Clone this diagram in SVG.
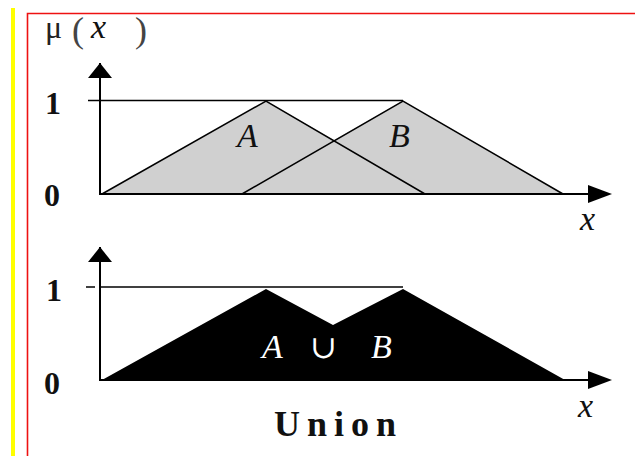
<svg xmlns="http://www.w3.org/2000/svg" width="635" height="456" viewBox="0 0 635 456">
<style>
.ax{stroke:#000;stroke-width:2;fill:none}
.ln{stroke:#000;stroke-width:1.5;fill:none}
.num{font-family:"Liberation Serif","DejaVu Serif",serif;font-weight:bold;font-size:32px;fill:#111}
.it{font-family:"Liberation Serif","DejaVu Serif",serif;font-style:italic;font-size:34px;fill:#111}
.wit{font-family:"Liberation Serif","DejaVu Serif",serif;font-style:italic;font-size:34px;fill:#fff}
.par{font-family:"Liberation Serif","DejaVu Serif",serif;font-size:36px;fill:#444}
</style>
<rect width="635" height="456" fill="#fff"/>
<line x1="13" y1="8" x2="13" y2="456" stroke="#ffff00" stroke-width="4"/>
<path d="M27.5,456 V13.5 H635" stroke="#ee1111" stroke-width="1.6" fill="none"/>

<g id="top-chart">
<text x="45" y="38" class="par" style="font-size:32px;fill:#222">μ</text>
<text x="72" y="42" class="par">(</text>
<text x="91" y="38" class="it">x</text>
<text x="135" y="42" class="par">)</text>
<polygon points="102,194 266,101 334,140 403,101 563,194" fill="#d0d0d0"/>
<line x1="88" y1="100.5" x2="403" y2="100.5" class="ln"/>
<polyline points="102,194 266,101 425,194" class="ln"/>
<polyline points="242,194 403,101 563,194" class="ln"/>
<line x1="100" y1="195" x2="100" y2="63" class="ax"/>
<polygon points="100,63 88,78 112,78" fill="#000"/>
<line x1="100" y1="194" x2="600" y2="194" class="ax"/>
<polygon points="612,194 588,185 588,203" fill="#000"/>
<text x="45" y="114" class="num">1</text>
<text x="44" y="206" class="num">0</text>
<text x="237" y="147" class="it">A</text>
<text x="389" y="147" class="it">B</text>
<text x="580" y="230" class="it">x</text>
</g>

<g id="bottom-chart">
<polygon points="102,380 266,289 333,325 403,289 565,380" fill="#000"/>
<line x1="100" y1="287" x2="403" y2="287" class="ln"/>
<line x1="86" y1="287" x2="95" y2="287" class="ln"/>
<line x1="100" y1="381" x2="100" y2="247" class="ax"/>
<polygon points="100,247 88,262 112,262" fill="#000"/>
<line x1="100" y1="380" x2="600" y2="380" class="ax"/>
<polygon points="612,380 588,371 588,389" fill="#000"/>
<text x="46" y="301" class="num">1</text>
<text x="44" y="394" class="num">0</text>
<text x="262" y="358" class="wit">A</text>
<text x="310" y="358" style="font-family:'DejaVu Serif',serif;font-size:32px;fill:#fff">∪</text>
<text x="371" y="358" class="wit">B</text>
<text x="578" y="417" class="it">x</text>
<text x="274" y="436" style="font-family:'Liberation Serif','DejaVu Serif',serif;font-weight:bold;font-size:36px;letter-spacing:7px;fill:#111">Union</text>
</g>
</svg>
